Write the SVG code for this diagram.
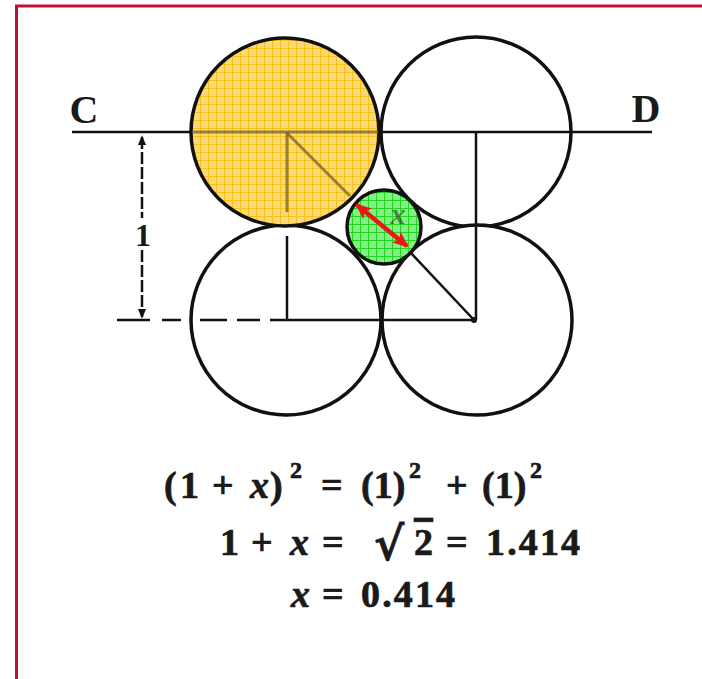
<svg xmlns="http://www.w3.org/2000/svg" width="702" height="679" viewBox="0 0 702 679">
<defs>
<style>
.ln{stroke:#111;stroke-width:2.5;fill:none;stroke-linecap:butt}
.lny{stroke:#7a6224;stroke-width:3;fill:none;opacity:0.75}
.ring{fill:#fff;stroke:#111;stroke-width:3.5}
.lbl{font-family:"Liberation Serif","Times New Roman",serif;font-weight:bold;fill:#1a1a1a}
.eq{font-family:"Liberation Serif","Times New Roman",serif;font-weight:bold;font-size:38px;fill:#1a1a1a;stroke:#1a1a1a;stroke-width:0.7}
.sup{font-size:24px}
.it{font-style:italic}
.rad{font-family:"DejaVu Serif",serif;font-size:46px;font-weight:bold}
</style>
<pattern id="gy" width="8" height="8" patternUnits="userSpaceOnUse">
<rect width="8" height="8" fill="#fcd877"/>
<path d="M0 0.5H8M0.5 0V8" stroke="#f7c21a" stroke-width="1"/>
</pattern>
<pattern id="gg" width="8" height="8" patternUnits="userSpaceOnUse">
<rect width="8" height="8" fill="#84ef84"/>
<path d="M0 0.5H8M0.5 0V8" stroke="#1fd81f" stroke-width="1"/>
</pattern>
<marker id="ah" markerWidth="10" markerHeight="12" refX="10" refY="5" orient="auto-start-reverse" markerUnits="userSpaceOnUse" viewBox="0 0 12 10">
<path d="M0 0L12 5L0 10Z" fill="#111"/>
</marker>
<marker id="rh" markerWidth="16" markerHeight="14" refX="14" refY="7" orient="auto-start-reverse" markerUnits="userSpaceOnUse" viewBox="0 0 16 14">
<path d="M0 0L16 7L0 14L4 7Z" fill="#f01515"/>
</marker>
</defs>
<rect width="702" height="679" fill="#fff"/>
<g id="frame" fill="none" stroke="#c0103a" stroke-width="3">
<path d="M16.5 679V6H702"/>
</g>
<g id="circles-white">
<circle id="circle-tr" class="ring" cx="476" cy="132" r="95"/>
<circle id="circle-bl" class="ring" cx="286" cy="320" r="95"/>
<circle id="circle-br" class="ring" cx="477" cy="320" r="95"/>
</g>
<g id="circle-tl">
<circle cx="285" cy="132" r="94" fill="url(#gy)"/>
<circle cx="285" cy="132" r="94" fill="none" stroke="#111" stroke-width="3.5"/>
</g>
<g id="connectors">
<line class="ln" x1="72" y1="132" x2="192" y2="132"/>
<line class="lny" x1="192" y1="132" x2="378" y2="132"/>
<line class="ln" x1="378" y1="132" x2="652" y2="132"/>
<line class="lny" x1="287" y1="132" x2="287" y2="212"/>
<line class="ln" x1="287" y1="236" x2="287" y2="320"/>
<line class="ln" x1="476" y1="132" x2="476" y2="320"/>
<line class="lny" x1="287" y1="133" x2="350" y2="196"/>
<line class="ln" x1="410" y1="252" x2="474" y2="320"/>
<path class="ln" d="M117 320H150M162 320H181M200 320H227M237 320H260M270 320H476"/>
<line class="ln" x1="142" y1="137" x2="142" y2="218" stroke-width="2" stroke-dasharray="12 3" marker-start="url(#ah)"/>
<line class="ln" x1="142" y1="250" x2="142" y2="317" stroke-width="2" stroke-dasharray="12 3" marker-end="url(#ah)"/>
<circle cx="474" cy="320" r="3" fill="#111"/>
</g>
<g id="circle-x">
<circle cx="384" cy="227" r="37" fill="url(#gg)"/>
<text x="398" y="224" text-anchor="middle" class="lbl it" font-size="30" fill="#1a6a1a" opacity="0.5">x</text>
<circle cx="384" cy="227" r="37" fill="none" stroke="#111" stroke-width="3.5"/>
</g>
<g id="arrow-x">
<line x1="357" y1="205" x2="407" y2="246" stroke="#f01515" stroke-width="4.5" marker-start="url(#rh)" marker-end="url(#rh)"/>
</g>
<g id="labels">
<text class="lbl" x="84" y="123" font-size="40" text-anchor="middle">C</text>
<text class="lbl" x="646" y="122" font-size="40" text-anchor="middle">D</text>
<text class="lbl" x="143" y="246" font-size="32" text-anchor="middle">1</text>
</g>
<g id="equations">
<text class="eq"><tspan x="164" y="498">(</tspan><tspan x="180" y="498">1</tspan><tspan x="212" y="498">+</tspan><tspan x="250" y="498" class="it">x</tspan><tspan x="270" y="498">)</tspan><tspan x="290" y="478" class="sup">2</tspan><tspan x="321" y="498">=</tspan><tspan x="361" y="498">(1)</tspan><tspan x="409" y="478" class="sup">2</tspan><tspan x="446" y="498">+</tspan><tspan x="482" y="498">(1)</tspan><tspan x="530" y="478" class="sup">2</tspan></text>
<text class="eq"><tspan x="220" y="555">1</tspan><tspan x="251" y="555">+</tspan><tspan x="290" y="555" class="it">x</tspan><tspan x="322" y="555">=</tspan><tspan x="374" y="560" class="rad">√</tspan><tspan x="414" y="555" text-decoration="overline">2</tspan><tspan x="446" y="555">=</tspan><tspan x="486" y="555" textLength="94">1.414</tspan></text>
<text class="eq"><tspan x="291" y="607" class="it">x</tspan><tspan x="322" y="607">=</tspan><tspan x="361" y="607" textLength="94">0.414</tspan></text>
</g>
</svg>
